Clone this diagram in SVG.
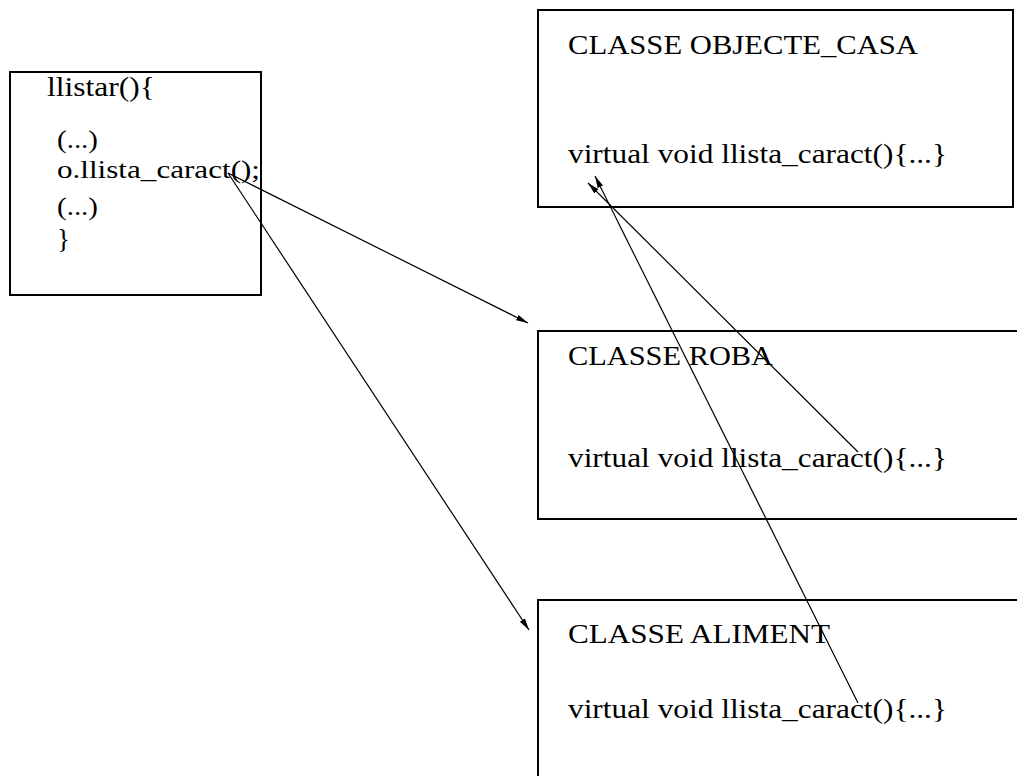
<svg xmlns="http://www.w3.org/2000/svg" width="1017" height="776" viewBox="0 0 1017 776">
<style>
.box{fill:none;stroke:#000;stroke-width:2}
.t{font-family:"Liberation Serif","DejaVu Serif",serif;font-size:27px;fill:#000}
.s{font-size:26px}
.c{fill:none;stroke:#000;stroke-width:1.2}
</style>
<defs>
<marker id="ah" markerUnits="userSpaceOnUse" markerWidth="14" markerHeight="8" refX="12" refY="4" orient="auto">
<path d="M0,1 L12,4 L0,7 Z" fill="#000"/>
</marker>
</defs>
<rect width="1017" height="776" fill="#fff"/>
<g id="caller">
<rect class="box" x="10" y="72" width="251" height="223"/>
<text class="t" x="47" y="96" textLength="108" lengthAdjust="spacingAndGlyphs">llistar(){</text>
<text class="t s" x="57" y="148" textLength="41" lengthAdjust="spacingAndGlyphs">(...)</text>
<text class="t s" x="57" y="178" textLength="203" lengthAdjust="spacingAndGlyphs">o.llista_caract();</text>
<text class="t s" x="57" y="215" textLength="41" lengthAdjust="spacingAndGlyphs">(...)</text>
<text class="t" x="57" y="248">}</text>
</g>
<g id="objecte_casa">
<rect class="box" x="538" y="10" width="475" height="197"/>
<text class="t" x="568" y="54" textLength="350" lengthAdjust="spacingAndGlyphs">CLASSE OBJECTE_CASA</text>
<text class="t" x="568" y="163" textLength="379" lengthAdjust="spacingAndGlyphs">virtual void llista_caract(){...}</text>
</g>
<g id="roba">
<path class="box" d="M1017,331 H538 V519 H1017"/>
<text class="t" x="568" y="365" textLength="205" lengthAdjust="spacingAndGlyphs">CLASSE ROBA</text>
<text class="t" x="568" y="467" textLength="379" lengthAdjust="spacingAndGlyphs">virtual void llista_caract(){...}</text>
</g>
<g id="aliment">
<path class="box" d="M1017,600 H538 V776"/>
<text class="t" x="568" y="643" textLength="262" lengthAdjust="spacingAndGlyphs">CLASSE ALIMENT</text>
<text class="t" x="568" y="718" textLength="379" lengthAdjust="spacingAndGlyphs">virtual void llista_caract(){...}</text>
</g>
<g id="connectors">
<line class="c" x1="228" y1="173" x2="528" y2="323" marker-end="url(#ah)"/>
<line class="c" x1="228" y1="173" x2="529" y2="630" marker-end="url(#ah)"/>
<line class="c" x1="858" y1="452" x2="588" y2="183" marker-end="url(#ah)"/>
<line class="c" x1="858" y1="703" x2="595" y2="176" marker-end="url(#ah)"/>
</g>
</svg>
